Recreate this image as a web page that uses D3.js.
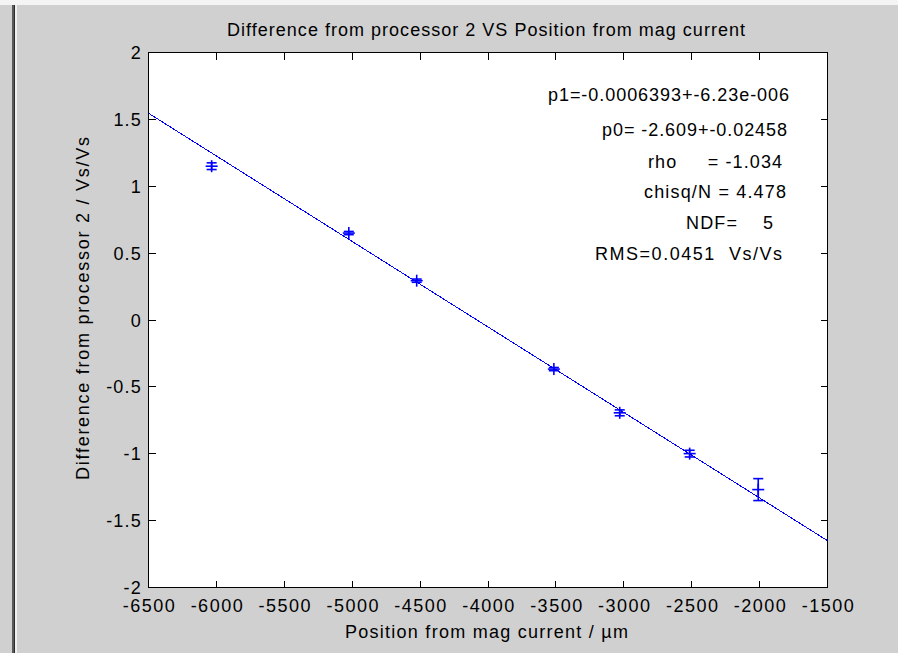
<!DOCTYPE html>
<html>
<head>
<meta charset="utf-8">
<script src="https://cdn.jsdelivr.net/npm/d3@7"></script>
<style>
  html, body { margin: 0; padding: 0; background: #d0d0d0; }
  svg { display: block; }
  text { font-family: "Liberation Sans", Arial, sans-serif; fill: #000; }
</style>
</head>
<body>
<svg id="chart" width="898" height="653"></svg>
<script>
// measured points (position in um, difference in Vs/Vs, error)
const posX = [-6035, -5025, -4525, -3515, -3030, -2515, -2010];
const diffY = [1.15, 0.65, 0.294, -0.367, -0.694, -0.999, -1.268];
const errY = [0.025, 0.012, 0.012, 0.012, 0.022, 0.025, 0.082];

// fitted straight line, ends of the x range
const fitX = [-6500, -1500];
const fitY = [1.546, -1.650];

const xTicks = [-6500, -6000, -5500, -5000, -4500, -4000, -3500, -3000, -2500, -2000, -1500];
const yTicks = [2, 1.5, 1, 0.5, 0, -0.5, -1, -1.5, -2];

const fitLines = [
  'p1=-0.0006393+-6.23e-006',
  'p0= -2.609+-0.02458',
  'rho     = -1.034',
  'chisq/N = 4.478',
  'NDF=    5',
  'RMS=0.0451  Vs/Vs'
];

const W = 898, H = 653;
const L = 148.5, R = 827.5, T = 52.5, B = 587.5;
const blue = '#0000ff';
const fs = 18;

const svg = d3.select('#chart');

// window chrome at left / top
svg.append('rect').attr('x', 0).attr('y', 0).attr('width', W).attr('height', 5).attr('fill', '#f4f4f4');
svg.append('rect').attr('x', 12).attr('y', 5).attr('width', 2).attr('height', H).attr('fill', '#5a5a5a');
svg.append('rect').attr('x', 14).attr('y', 5).attr('width', 1).attr('height', H).attr('fill', '#2a2a2a');
svg.append('rect').attr('x', 15).attr('y', 5).attr('width', 2).attr('height', H).attr('fill', '#f0f0f0');

const x = d3.scaleLinear().domain([-6500, -1500]).range([L, R]);
const y = d3.scaleLinear().domain([-2, 2]).range([B, T]);

// plot area
svg.append('rect').attr('x', L).attr('y', T).attr('width', R - L).attr('height', B - T)
  .attr('fill', '#fff');

const plot = svg.append('g');
svg.append('clipPath').attr('id', 'clip').append('rect')
  .attr('x', L).attr('y', T).attr('width', R - L).attr('height', B - T);

plot.append('path')
  .datum(fitX.map((d, i) => [d, fitY[i]]))
  .attr('clip-path', 'url(#clip)')
  .attr('d', d3.line().x(d => x(d[0])).y(d => y(d[1])))
  .attr('fill', 'none').attr('stroke', blue).attr('stroke-width', 1)
  .attr('shape-rendering', 'crispEdges');

// error bars + plus markers
const pts = plot.selectAll('g.pt').data(posX.map((d, i) => ({ x: d, y: diffY[i], e: errY[i] })))
  .join('g').attr('class', 'pt')
  .attr('stroke', blue).attr('stroke-width', 1.6).attr('fill', 'none');
pts.append('line')
  .attr('x1', d => x(d.x)).attr('x2', d => x(d.x))
  .attr('y1', d => y(d.y + d.e)).attr('y2', d => y(d.y - d.e));
pts.append('line')
  .attr('x1', d => x(d.x) - 5).attr('x2', d => x(d.x) + 5)
  .attr('y1', d => y(d.y + d.e)).attr('y2', d => y(d.y + d.e));
pts.append('line')
  .attr('x1', d => x(d.x) - 5).attr('x2', d => x(d.x) + 5)
  .attr('y1', d => y(d.y - d.e)).attr('y2', d => y(d.y - d.e));
// plus marker
pts.append('line')
  .attr('x1', d => x(d.x) - 6).attr('x2', d => x(d.x) + 6)
  .attr('y1', d => y(d.y)).attr('y2', d => y(d.y));
pts.append('line')
  .attr('x1', d => x(d.x)).attr('x2', d => x(d.x))
  .attr('y1', d => y(d.y) - 6).attr('y2', d => y(d.y) + 6);

// axes: inward ticks on all four sides
const tk = 7;
const axG = svg.append('g').attr('stroke', '#000').attr('stroke-width', 1)
  .attr('shape-rendering', 'crispEdges');
axG.append('rect').attr('x', L).attr('y', T).attr('width', R - L).attr('height', B - T)
  .attr('fill', 'none');
xTicks.forEach(v => {
  axG.append('line').attr('x1', x(v)).attr('x2', x(v)).attr('y1', B).attr('y2', B - tk);
  axG.append('line').attr('x1', x(v)).attr('x2', x(v)).attr('y1', T).attr('y2', T + tk);
});
yTicks.forEach(v => {
  axG.append('line').attr('x1', L).attr('x2', L + tk).attr('y1', y(v)).attr('y2', y(v));
  axG.append('line').attr('x1', R).attr('x2', R - tk).attr('y1', y(v)).attr('y2', y(v));
});

// tick labels
svg.append('g').selectAll('text').data(xTicks).join('text')
  .attr('x', d => x(d) + 1).attr('y', 612)
  .attr('text-anchor', 'middle').attr('font-size', fs)
  .attr('letter-spacing', 1.5)
  .text(d => d);
svg.append('g').selectAll('text').data(yTicks).join('text')
  .attr('x', 142).attr('y', d => y(d) + 6.5)
  .attr('text-anchor', 'end').attr('font-size', fs)
  .attr('letter-spacing', 1.2)
  .text(d => d);

// titles, stretched to the widths of the original raster font
svg.append('text').attr('x', 227).attr('y', 36)
  .attr('font-size', fs)
  .attr('textLength', 518).attr('lengthAdjust', 'spacing')
  .text('Difference from processor 2 VS Position from mag current');
svg.append('text').attr('x', 345).attr('y', 638)
  .attr('font-size', fs)
  .attr('textLength', 283).attr('lengthAdjust', 'spacing')
  .text('Position from mag current / \u00b5m');
svg.append('text')
  .attr('transform', 'translate(89, 480) rotate(-90)')
  .attr('font-size', fs)
  .attr('textLength', 343).attr('lengthAdjust', 'spacing')
  .text('Difference from processor 2 / Vs/Vs');

// fit results
const fitLeft = [548, 602, 648, 644, 686, 595];
const fitWidth = [241, 185, 134, 142, 87, 187];
const fitBase = [101, 136, 168, 198, 229, 260];
svg.append('g').selectAll('text').data(fitLines).join('text')
  .attr('x', (d, i) => fitLeft[i]).attr('y', (d, i) => fitBase[i])
  .attr('font-size', fs)
  .attr('textLength', (d, i) => fitWidth[i]).attr('lengthAdjust', 'spacing')
  .style('white-space', 'pre')
  .text(d => d);
</script>
</body>
</html>
